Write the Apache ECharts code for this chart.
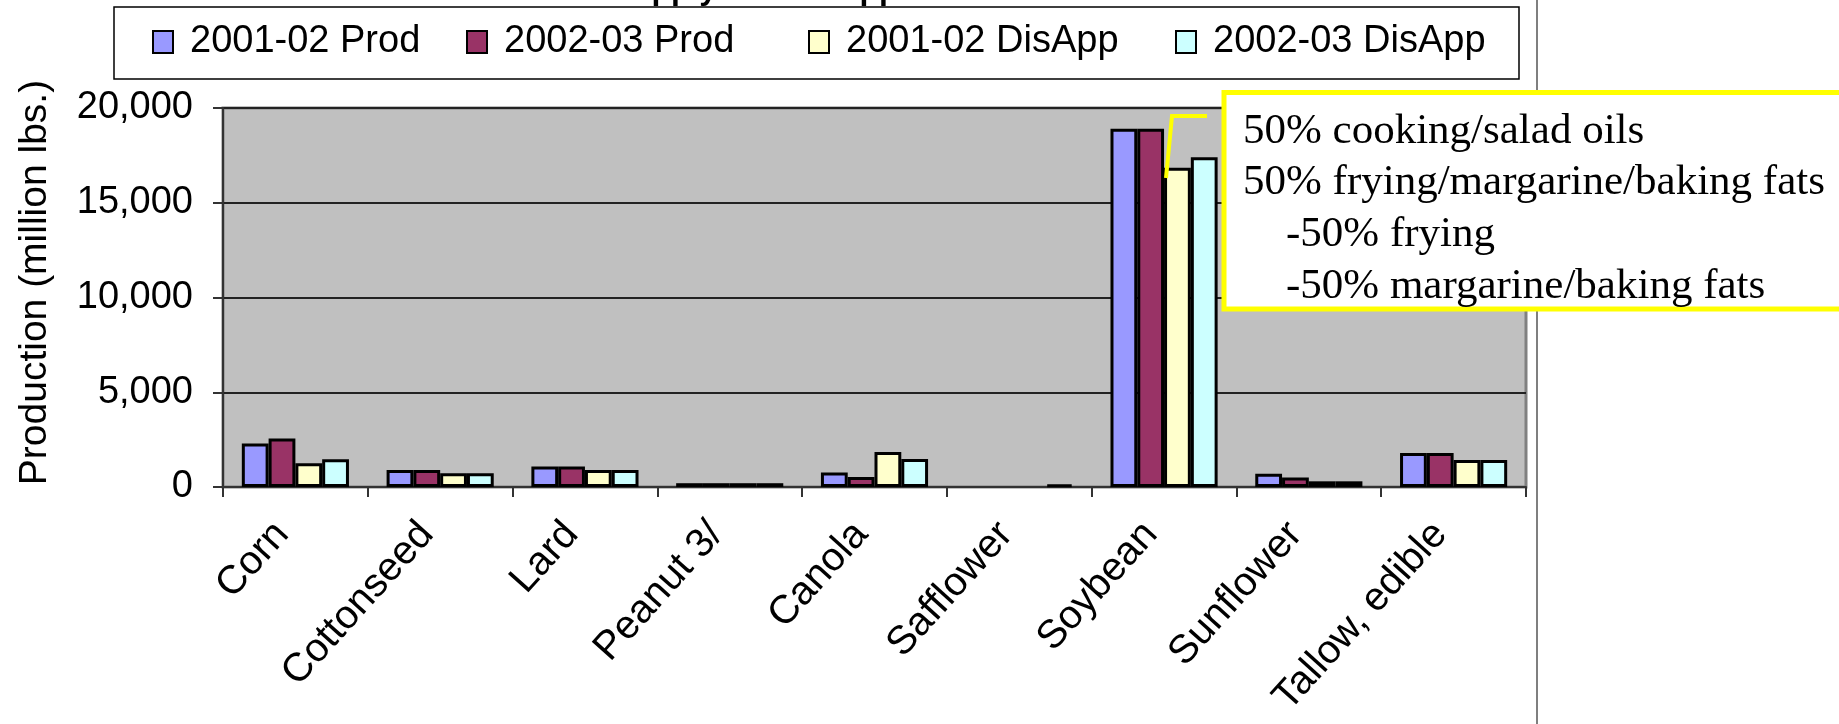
<!DOCTYPE html>
<html>
<head>
<meta charset="utf-8">
<script src="https://cdn.jsdelivr.net/npm/echarts@6/dist/echarts.min.js"></script>
<style>
  html, body { margin: 0; padding: 0; background: #fff; }
  #main { width: 1839px; height: 724px; }
</style>
</head>
<body>
<div id="main"></div>
<script>
// data (million lbs.)
var categories = ['Corn', 'Cottonseed', 'Lard', 'Peanut 3/', 'Canola', 'Safflower', 'Soybean', 'Sunflower', 'Tallow, edible'];
var seriesNames = ['2001-02 Prod', '2002-03 Prod', '2001-02 DisApp', '2002-03 DisApp'];
var prod0102 = [2300, 900, 1080, 200, 760, null, 18900, 700, 1800];
var prod0203 = [2560, 900, 1080, 200, 530, null, 18900, 500, 1800];
var dis0102 = [1250, 730, 900, 200, 1850, null, 16850, 300, 1420];
var dis0203 = [1470, 730, 900, 200, 1480, 120, 17400, 300, 1420];
var yTicks = [0, 5000, 10000, 15000, 20000];
var noteLines = ['50% cooking/salad oils', '50% frying/margarine/baking fats', '-50% frying', '-50% margarine/baking fats'];

var colors = ['#9999ff', '#993366', '#ffffcc', '#ccffff'];
var sans = '"Liberation Sans", Arial, sans-serif';
var serif = '"Liberation Serif", "Times New Roman", serif';

var chart = echarts.init(document.getElementById('main'));

var allValues = [prod0102, prod0203, dis0102, dis0203];
var series = seriesNames.map(function (name, i) {
  return {
    name: name,
    type: 'bar',
    data: allValues[i],
    barGap: '0%',
    barCategoryGap: '26%',
    itemStyle: { color: colors[i], borderColor: '#000', borderWidth: 3 },
    emphasis: { disabled: true }
  };
});

// one legend per item so each sits where it does in the picture
var legendLeft = [152, 466, 808, 1175];
var legends = seriesNames.map(function (name, i) {
  return {
    data: [name],
    left: legendLeft[i],
    top: 23,
    padding: 0,
    z: 10,
    icon: 'rect',
    itemWidth: 20,
    itemHeight: 22,
    itemStyle: { borderColor: '#000', borderWidth: 2 },
    textStyle: { fontFamily: sans, fontSize: 38, color: '#000', lineHeight: 38, padding: [0, 0, 0, 12] },
    selectedMode: false
  };
});

var noteX = [1243, 1243, 1286, 1286];
var noteY = [132, 183, 235, 287];
var noteText = noteLines.map(function (t, i) {
  return {
    type: 'text', z: 102, x: noteX[i], y: noteY[i],
    style: { text: t, font: '43px ' + serif, fill: '#000', verticalAlign: 'middle' }
  };
});

chart.setOption({
  animation: false,
  grid: {
    left: 223, right: 313, top: 108, bottom: 237,
    show: true, backgroundColor: '#c0c0c0', borderColor: '#808080', borderWidth: 3
  },
  legend: legends,
  xAxis: {
    type: 'category',
    data: categories,
    axisLine: { lineStyle: { color: '#333', width: 2 } },
    axisTick: { show: true, length: 10, lineStyle: { color: '#333', width: 2 } },
    axisLabel: {
      interval: 0, rotate: 48, margin: 26, padding: [0, 20, 0, 0],
      fontFamily: sans, fontSize: 40, color: '#000'
    }
  },
  yAxis: {
    type: 'value',
    min: yTicks[0],
    max: yTicks[yTicks.length - 1],
    interval: yTicks[1] - yTicks[0],
    name: 'Production (million lbs.)',
    nameLocation: 'middle',
    nameRotate: 90,
    nameGap: 168,
    nameTextStyle: { fontFamily: sans, fontSize: 39, color: '#000', padding: [0, 0, 0, 30] },
    axisLine: { show: true, lineStyle: { color: '#333', width: 2 } },
    axisTick: { show: true, length: 10, lineStyle: { color: '#333', width: 2 } },
    axisLabel: {
      margin: 30, fontFamily: sans, fontSize: 38, color: '#000',
      formatter: function (v) { return v.toLocaleString('en-US'); }
    },
    splitLine: { lineStyle: { color: '#222', width: 2 } }
  },
  series: series,
  graphic: [
    // title, mostly hidden behind the legend box
    { type: 'text', z: 1, x: 815, y: -10,
      style: { text: 'Supply and Disappearance', font: 'bold 32px ' + sans, fill: '#000', align: 'center', verticalAlign: 'middle' } },
    { type: 'rect', z: 2, shape: { x: 114, y: 7, width: 1405, height: 72 },
      style: { fill: '#fff', stroke: '#000', lineWidth: 1.5 } },
    { type: 'line', z: 50, shape: { x1: 1537, y1: 0, x2: 1537, y2: 724 },
      style: { stroke: '#555', lineWidth: 1.5 } },
    { type: 'polyline', z: 101, shape: { points: [[1207, 116], [1172, 116], [1166, 178]] },
      style: { stroke: '#ffff00', lineWidth: 4, fill: null } },
    { type: 'rect', z: 100, shape: { x: 1224, y: 92.5, width: 700, height: 216.5 },
      style: { fill: '#fff', stroke: '#ffff00', lineWidth: 5 } }
  ].concat(noteText)
});
</script>
</body>
</html>
